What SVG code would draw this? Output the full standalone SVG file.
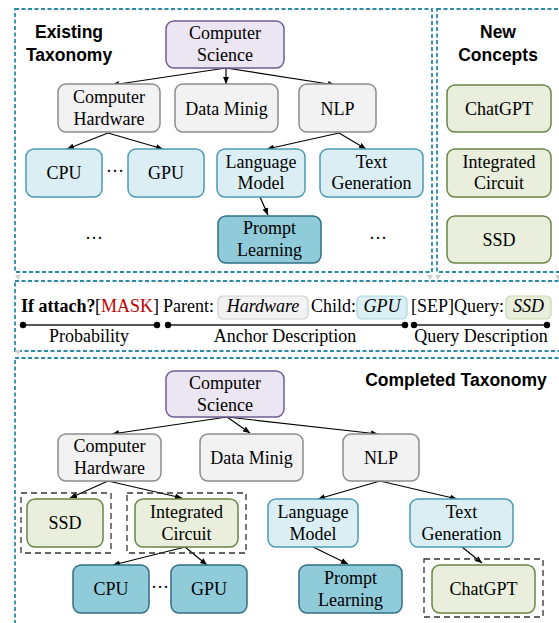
<svg xmlns="http://www.w3.org/2000/svg" width="559" height="623" viewBox="0 0 559 623">
<defs>
<marker id="ah" markerWidth="7" markerHeight="6" refX="7" refY="3" orient="auto" markerUnits="userSpaceOnUse">
<path d="M0,0 L7,3 L0,6 z" fill="#000"/>
</marker>
<style>
.panel{fill:none;stroke:#2b8ba6;stroke-width:1.8;stroke-dasharray:4 2.5}
.grp{fill:none;stroke:#333;stroke-width:1.3;stroke-dasharray:6 4}
.n rect{stroke-width:1.5}
.purple rect{fill:#ebe6f1;stroke:#6f5d93}
.grey rect{fill:#f2f2f2;stroke:#8c8c8c}
.lblue rect{fill:#dbeef4;stroke:#4b9ab0}
.dteal rect{fill:#90cbda;stroke:#2f6f82}
.green rect{fill:#e9efdc;stroke:#6a8443}
.t{font-family:"Liberation Serif","Times New Roman",serif;font-size:18px;fill:#000;text-anchor:middle}
.ts{font-family:"Liberation Serif","Times New Roman",serif;font-size:18px;fill:#000}
.h{font-family:"Liberation Sans",Arial,sans-serif;font-size:17.5px;font-weight:bold;fill:#000;text-anchor:middle}
.e line{stroke:#000;stroke-width:1.2;marker-end:url(#ah)}
.mk{fill:#d0d0d0}
</style>
</defs>

<!-- panels -->
<rect class="panel" x="15" y="9" width="417" height="263"/>
<rect class="panel" x="437" y="9" width="125" height="263"/>
<rect class="panel" x="15" y="281" width="547" height="70"/>
<rect class="panel" x="15" y="358" width="547" height="275"/>
<g id="markers">
<path class="mk" d="M15,275 L21,275 L18,280 z"/>
<path class="mk" d="M15,350 L21,350 L18,355 z"/>
<path class="mk" d="M427,275 L433,275 L430,280 z"/>
<path class="mk" d="M435,275 L441,275 L438,280 z"/>
<path class="mk" d="M555,275 L561,275 L558,280 z"/>
</g>

<!-- titles -->
<text class="h" x="69" y="38">Existing</text>
<text class="h" x="69" y="61">Taxonomy</text>
<text class="h" x="498" y="38">New</text>
<text class="h" x="498" y="61">Concepts</text>
<text class="h" x="456" y="386">Completed Taxonomy</text>

<!-- connectors -->
<g id="connectors" class="e">
<line x1="226" y1="68" x2="112" y2="85"/>
<line x1="226" y1="68" x2="226" y2="84"/>
<line x1="226" y1="68" x2="335" y2="85"/>
<line x1="108" y1="133" x2="67" y2="149"/>
<line x1="108" y1="133" x2="163" y2="149"/>
<line x1="339" y1="133" x2="267" y2="149"/>
<line x1="339" y1="133" x2="366" y2="149"/>
<line x1="260" y1="197" x2="268" y2="215"/>

<line x1="227" y1="417" x2="112" y2="434"/>
<line x1="227" y1="417" x2="250" y2="433"/>
<line x1="227" y1="417" x2="378" y2="434"/>
<line x1="108" y1="481" x2="70" y2="498"/>
<line x1="108" y1="481" x2="182" y2="498"/>
<line x1="185" y1="547" x2="113" y2="565"/>
<line x1="185" y1="547" x2="207" y2="565"/>
<line x1="380" y1="481" x2="318" y2="499"/>
<line x1="380" y1="481" x2="457" y2="499"/>
<line x1="313" y1="547" x2="348" y2="564"/>
<line x1="462" y1="547" x2="482" y2="563"/>
</g>

<!-- top panel nodes -->
<g id="cs_top" class="n purple"><rect x="166" y="21" width="118" height="47" rx="8"/><text class="t" x="225" y="39">Computer</text><text class="t" x="225" y="61">Science</text></g>
<g id="ch_top" class="n grey"><rect x="58" y="84" width="102" height="48" rx="8"/><text class="t" x="109" y="103">Computer</text><text class="t" x="109" y="124.5">Hardware</text></g>
<g id="dm_top" class="n grey"><rect x="175" y="84" width="103" height="48" rx="8"/><text class="t" x="226.5" y="114.5">Data Minig</text></g>
<g id="nlp_top" class="n grey"><rect x="299" y="84" width="77" height="48" rx="8"/><text class="t" x="337.5" y="114.5">NLP</text></g>
<g id="cpu_top" class="n lblue"><rect x="26" y="149" width="76" height="48" rx="8"/><text class="t" x="64" y="179">CPU</text></g>
<g id="gpu_top" class="n lblue"><rect x="128" y="149" width="76" height="48" rx="8"/><text class="t" x="166" y="179">GPU</text></g>
<g id="lm_top" class="n lblue"><rect x="217" y="149" width="88" height="48" rx="8"/><text class="t" x="261" y="167.5">Language</text><text class="t" x="261" y="189">Model</text></g>
<g id="tg_top" class="n lblue"><rect x="320" y="149" width="103" height="48" rx="8"/><text class="t" x="371.5" y="167.5">Text</text><text class="t" x="371.5" y="189">Generation</text></g>
<g id="pl_top" class="n dteal"><rect x="218" y="216" width="103" height="47" rx="8"/><text class="t" x="269.5" y="234">Prompt</text><text class="t" x="269.5" y="256">Learning</text></g>
<text class="t" x="115" y="177">···</text>
<text class="t" x="94" y="244">···</text>
<text class="t" x="378" y="244">···</text>

<!-- new concepts -->
<g id="chatgpt_new" class="n green"><rect x="447" y="85" width="104" height="47" rx="8"/><text class="t" x="499" y="114.5">ChatGPT</text></g>
<g id="ic_new" class="n green"><rect x="447" y="149" width="104" height="48" rx="8"/><text class="t" x="499" y="167.5">Integrated</text><text class="t" x="499" y="189">Circuit</text></g>
<g id="ssd_new" class="n green"><rect x="447" y="216" width="104" height="47" rx="8"/><text class="t" x="499" y="245.5">SSD</text></g>

<!-- prompt template -->
<g id="prompt">
<rect x="218" y="296" width="90" height="23" rx="5" fill="#f2f2f2" stroke="#cfcfcf" stroke-width="1.2"/>
<rect x="357" y="296" width="50" height="23" rx="5" fill="#dbeef4" stroke="#a9d4e1" stroke-width="1.2"/>
<rect x="506" y="296" width="45" height="23" rx="5" fill="#e9efdc" stroke="#c7d7a9" stroke-width="1.2"/>
<text class="ts" x="21" y="312" font-weight="bold">If attach?</text>
<text class="ts" x="95" y="312">[<tspan fill="#c00000">MASK</tspan>]</text>
<text class="ts" x="163" y="312">Parent:</text>
<text class="t" x="263" y="312" font-style="italic">Hardware</text>
<text class="ts" x="311" y="312">Child:</text>
<text class="t" x="382" y="312" font-style="italic">GPU</text>
<text class="ts" x="411" y="312">[SEP]Query:</text>
<text class="t" x="528.5" y="312" font-style="italic">SSD</text>
<g stroke="#555" stroke-width="2">
<line x1="23" y1="325" x2="157" y2="325"/>
<line x1="168" y1="325" x2="405" y2="325"/>
<line x1="414" y1="325" x2="547" y2="325"/>
</g>
<g fill="#000">
<circle cx="23" cy="325" r="3.2"/><circle cx="157" cy="325" r="3.2"/>
<circle cx="168" cy="325" r="3.2"/><circle cx="405" cy="325" r="3.2"/>
<circle cx="414" cy="325" r="3.2"/><circle cx="547" cy="325" r="3.2"/>
</g>
<text class="t" x="89" y="342">Probability</text>
<text class="t" x="285" y="342">Anchor Description</text>
<text class="t" x="481" y="342">Query Description</text>
</g>

<!-- completed taxonomy -->
<rect class="grp" x="21" y="493" width="90" height="60"/>
<rect class="grp" x="127" y="493" width="119" height="60"/>
<rect class="grp" x="424" y="559" width="119" height="58"/>
<g id="cs_bot" class="n purple"><rect x="166" y="371" width="118" height="46" rx="8"/><text class="t" x="225" y="388.5">Computer</text><text class="t" x="225" y="410.5">Science</text></g>
<g id="ch_bot" class="n grey"><rect x="58" y="434" width="103" height="47" rx="8"/><text class="t" x="109.5" y="452">Computer</text><text class="t" x="109.5" y="474">Hardware</text></g>
<g id="dm_bot" class="n grey"><rect x="200" y="434" width="103" height="47" rx="8"/><text class="t" x="251.5" y="464">Data Minig</text></g>
<g id="nlp_bot" class="n grey"><rect x="343" y="434" width="76" height="47" rx="8"/><text class="t" x="381" y="464">NLP</text></g>
<g id="ssd_bot" class="n green"><rect x="27" y="499" width="76" height="48" rx="8"/><text class="t" x="65" y="529">SSD</text></g>
<g id="ic_bot" class="n green"><rect x="135" y="499" width="103" height="48" rx="8"/><text class="t" x="186.5" y="517.5">Integrated</text><text class="t" x="186.5" y="539.5">Circuit</text></g>
<g id="lm_bot" class="n lblue"><rect x="268" y="499" width="90" height="48" rx="8"/><text class="t" x="313" y="517.5">Language</text><text class="t" x="313" y="539.5">Model</text></g>
<g id="tg_bot" class="n lblue"><rect x="410" y="499" width="103" height="48" rx="8"/><text class="t" x="461.5" y="517.5">Text</text><text class="t" x="461.5" y="539.5">Generation</text></g>
<g id="cpu_bot" class="n dteal"><rect x="73" y="565" width="76" height="48" rx="8"/><text class="t" x="111" y="595">CPU</text></g>
<g id="gpu_bot" class="n dteal"><rect x="171" y="565" width="76" height="48" rx="8"/><text class="t" x="209" y="595">GPU</text></g>
<g id="pl_bot" class="n dteal"><rect x="299" y="565" width="103" height="48" rx="8"/><text class="t" x="350.5" y="583.5">Prompt</text><text class="t" x="350.5" y="605.5">Learning</text></g>
<g id="chatgpt_bot" class="n green"><rect x="432" y="565" width="103" height="48" rx="8"/><text class="t" x="483.5" y="595">ChatGPT</text></g>
<text class="t" x="160" y="593">···</text>
</svg>
